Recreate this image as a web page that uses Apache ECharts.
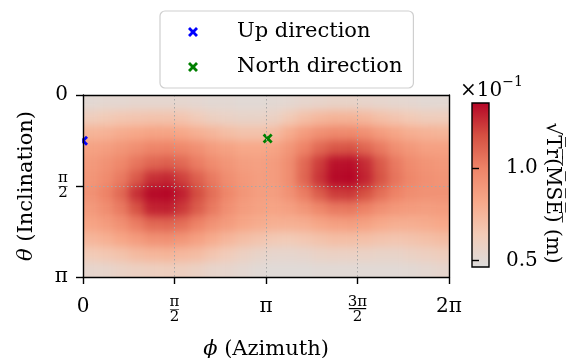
<!DOCTYPE html>
<html>
<head>
<meta charset="utf-8">
<script src="https://cdn.jsdelivr.net/npm/echarts@6/dist/echarts.min.js"></script>
<style>
html,body{margin:0;padding:0;background:#fff;}
#wrap{position:relative;width:569px;height:358px;}
#heatclip{position:absolute;left:83px;top:95px;width:366px;height:182px;overflow:hidden;}
#heat{position:absolute;left:-20px;top:-20px;width:406px;height:222px;filter:blur(4px);}
#chart{position:absolute;left:0;top:0;width:569px;height:358px;}
</style>
</head>
<body>
<div id="wrap">
  <div id="heatclip"><div id="heat"></div></div>
  <div id="chart"></div>
</div>
<script>
// sqrt(Tr(MSE)) in units of 1e-1 m; rows: theta bins 0..pi (12), cols: phi bins 0..2pi (24)
const mse = [
  [0.51,0.52,0.52,0.53,0.53,0.53,0.53,0.52,0.51,0.51,0.50,0.50,0.51,0.52,0.54,0.55,0.56,0.56,0.55,0.54,0.53,0.52,0.51,0.51],
  [0.62,0.64,0.66,0.67,0.68,0.68,0.67,0.63,0.59,0.57,0.56,0.56,0.58,0.64,0.70,0.74,0.76,0.76,0.74,0.70,0.67,0.64,0.62,0.62],
  [0.76,0.77,0.80,0.82,0.84,0.84,0.82,0.78,0.75,0.71,0.69,0.69,0.72,0.80,0.88,0.94,0.97,0.97,0.94,0.88,0.83,0.79,0.77,0.76],
  [0.85,0.87,0.91,0.95,0.99,1.00,0.98,0.94,0.88,0.85,0.82,0.82,0.84,0.91,1.00,1.09,1.15,1.16,1.10,1.03,0.95,0.90,0.86,0.86],
  [0.89,0.93,0.98,1.05,1.10,1.12,1.09,1.02,0.96,0.91,0.87,0.86,0.88,0.95,1.09,1.22,1.32,1.33,1.26,1.14,1.03,0.96,0.92,0.90],
  [0.91,0.96,1.03,1.14,1.25,1.27,1.21,1.12,1.03,0.95,0.90,0.87,0.88,0.95,1.10,1.24,1.34,1.35,1.28,1.16,1.05,0.98,0.94,0.92],
  [0.93,1.00,1.09,1.25,1.34,1.35,1.29,1.18,1.07,0.98,0.91,0.87,0.87,0.93,1.02,1.13,1.22,1.23,1.17,1.07,1.00,0.95,0.93,0.93],
  [0.89,0.95,1.03,1.16,1.28,1.29,1.23,1.13,1.03,0.94,0.88,0.85,0.84,0.86,0.91,0.98,1.03,1.04,1.00,0.94,0.90,0.88,0.87,0.88],
  [0.84,0.88,0.94,1.02,1.09,1.10,1.07,1.00,0.93,0.88,0.83,0.80,0.78,0.78,0.79,0.83,0.86,0.87,0.85,0.81,0.79,0.79,0.80,0.82],
  [0.75,0.78,0.83,0.88,0.93,0.94,0.91,0.86,0.80,0.75,0.71,0.68,0.65,0.64,0.66,0.69,0.71,0.71,0.70,0.68,0.67,0.68,0.70,0.72],
  [0.64,0.66,0.69,0.73,0.75,0.76,0.74,0.72,0.67,0.63,0.59,0.56,0.54,0.54,0.55,0.57,0.58,0.58,0.57,0.56,0.56,0.58,0.60,0.62],
  [0.54,0.55,0.57,0.59,0.60,0.61,0.60,0.58,0.55,0.54,0.52,0.50,0.49,0.49,0.49,0.50,0.50,0.50,0.50,0.50,0.50,0.51,0.52,0.54]
];
const upDirection = [0, 0.79];      // [phi, theta]
const northDirection = [3.17, 0.75];
const colorMin = 0.464, colorMax = 1.353;
const colorbarTicks = [0.5, 1.0];
const colorbarTickLabels = ['0.5', '1.0'];
const phiTicks = [0, Math.PI/2, Math.PI, 3*Math.PI/2, 2*Math.PI];
const phiTickLabels = ['0', 'π/2', 'π', '3π/2', '2π'];
const thetaTicks = [0, Math.PI/2, Math.PI];
const thetaTickLabels = ['0', 'π/2', 'π'];
const cmap = ['#dddddd', '#f2cbb7', '#f7a889', '#ee8468', '#d55042', '#b40426'];

const nRows = mse.length, nCols = mse[0].length;
const dPhi = 2*Math.PI/nCols, dTheta = Math.PI/nRows;
const cells = [];
for (let r = 0; r < nRows; r++) for (let c = 0; c < nCols; c++)
  cells.push([(c+0.5)*dPhi, (r+0.5)*dTheta, mse[r][c], c, r]);

const FONT = 'DejaVu Serif';
const xPath = 'path://M2,0 L5,3 L8,0 L10,2 L7,5 L10,8 L8,10 L5,7 L2,10 L0,8 L3,5 L0,2 Z';

// ---------- heat field (smoothed underlay) ----------
const heat = echarts.init(document.getElementById('heat'), null, { renderer: 'canvas' });
const EXT = 20;
heat.setOption({
  animation: false,
  grid: { left: 20, top: 20, width: 366, height: 182, outerBoundsMode: 'none' },
  xAxis: { type: 'value', min: 0, max: 2*Math.PI, show: false },
  yAxis: { type: 'value', min: 0, max: Math.PI, inverse: true, show: false },
  visualMap: { show: false, type: 'continuous', seriesIndex: 0, dimension: 2,
    min: colorMin, max: colorMax, inRange: { color: cmap } },
  series: [{
    type: 'custom', data: cells, clip: false, encode: { x: 0, y: 1 },
    renderItem(params, api) {
      const phi = api.value(0), th = api.value(1), c = api.value(3), r = api.value(4);
      const p0 = api.coord([phi - dPhi/2, th - dTheta/2]);
      const p1 = api.coord([phi + dPhi/2, th + dTheta/2]);
      let x0 = Math.min(p0[0], p1[0]), x1 = Math.max(p0[0], p1[0]);
      let y0 = Math.min(p0[1], p1[1]), y1 = Math.max(p0[1], p1[1]);
      if (c === 0) x0 -= EXT;
      if (c === nCols - 1) x1 += EXT;
      if (r === 0) y0 -= EXT;
      if (r === nRows - 1) y1 += EXT;
      return { type: 'rect', shape: { x: x0, y: y0, width: x1 - x0 + 0.6, height: y1 - y0 + 0.6 },
        style: { fill: api.visual('color') } };
    }
  }]
});

// ---------- main chart ----------
function fracLabel(s) {
  if (s.indexOf('/') < 0) return '{m|' + s + '}';
  const [num, den] = s.split('/');
  const bar = num.length > 1 ? 'bw' : 'b';
  return '{n|' + num + '}\n{' + bar + '|—}\n{n|' + den + '}';
}
function labelFor(ticks, labels) {
  return function (v) {
    let best = 0;
    ticks.forEach((t, i) => { if (Math.abs(t - v) < Math.abs(ticks[best] - v)) best = i; });
    return fracLabel(labels[best]);
  };
}
const fracRich = {
  m: { fontFamily: FONT, fontSize: 20, color: '#000', align: 'center', lineHeight: 22 },
  n: { fontFamily: FONT, fontSize: 15, color: '#000', align: 'center', lineHeight: 12 },
  b: { fontFamily: FONT, fontSize: 10, color: '#000', align: 'center', lineHeight: 3 },
  bw: { fontFamily: FONT, fontSize: 19, color: '#000', align: 'center', lineHeight: 3 }
};

const chart = echarts.init(document.getElementById('chart'), null, { renderer: 'canvas' });
const lineStyle = { color: '#000', width: 1.4 };
const nameRich = { i: { fontFamily: FONT, fontSize: 21, fontStyle: 'italic', color: '#000' } };
chart.setOption({
  animation: false,
  backgroundColor: 'transparent',
  grid: [
    { left: 83, top: 95, width: 366, height: 182, outerBoundsMode: 'none' },
    { left: 472, top: 103, width: 17, height: 164, outerBoundsMode: 'none' }
  ],
  title: {
    text: '{a|×10}{s|−1}', left: 455, top: 70,
    textStyle: { fontWeight: 'normal', rich: {
      a: { fontFamily: FONT, fontSize: 20, fontWeight: 'normal', color: '#000', verticalAlign: 'bottom', lineHeight: 26 },
      s: { fontFamily: FONT, fontSize: 14, fontWeight: 'normal', color: '#000', verticalAlign: 'top', lineHeight: 26, padding: [0,0,10,0] }
    } }
  },
  legend: {
    left: 160, top: 11, orient: 'vertical',
    padding: [10, 11, 10, 28],
    itemWidth: 40, itemHeight: 10, itemGap: 13,
    backgroundColor: '#fff', borderColor: '#cfcfcf', borderWidth: 1.2, borderRadius: 5,
    textStyle: { fontFamily: FONT, fontSize: 21, color: '#000', padding: [0, 0, 0, 19], lineHeight: 22 },
    data: ['Up direction', 'North direction']
  },
  xAxis: [
    { gridIndex: 0, type: 'value', min: 0, max: 2*Math.PI, interval: Math.PI/2, position: 'bottom', z: 10,
      name: '{i|ϕ} (Azimuth)', nameLocation: 'middle', nameGap: 62,
      nameTextStyle: { fontFamily: FONT, fontSize: 21, color: '#000', rich: nameRich },
      axisLine: { show: true, onZero: false, lineStyle }, axisTick: { show: true, length: 7, lineStyle, customValues: phiTicks },
      axisLabel: { margin: 19, customValues: phiTicks, formatter: labelFor(phiTicks, phiTickLabels), rich: fracRich, verticalAlign: 'top' },
      splitLine: { show: true, lineStyle: { color: '#a8a8a8', width: 1, type: [1.5, 2.5] } } },
    { gridIndex: 0, type: 'value', min: 0, max: 2*Math.PI, position: 'top', z: 10,
      axisLine: { show: true, onZero: false, lineStyle }, axisTick: { show: false }, axisLabel: { show: false }, splitLine: { show: false } },
    { gridIndex: 1, type: 'value', min: 0, max: 1, show: false }
  ],
  yAxis: [
    { gridIndex: 0, type: 'value', min: 0, max: Math.PI, interval: Math.PI/2, inverse: true, position: 'left', z: 10,
      name: '{i|θ} (Inclination)', nameLocation: 'middle', nameGap: 46,
      nameTextStyle: { fontFamily: FONT, fontSize: 21, color: '#000', rich: nameRich },
      axisLine: { show: true, onZero: false, lineStyle }, axisTick: { show: true, length: 7, lineStyle, customValues: thetaTicks },
      axisLabel: { margin: 15, customValues: thetaTicks, formatter: labelFor(thetaTicks, thetaTickLabels), rich: fracRich },
      splitLine: { show: true, lineStyle: { color: '#a8a8a8', width: 1, type: [1.5, 2.5] } } },
    { gridIndex: 0, type: 'value', min: 0, max: Math.PI, inverse: true, position: 'right', z: 10,
      axisLine: { show: true, onZero: false, lineStyle }, axisTick: { show: false }, axisLabel: { show: false }, splitLine: { show: false } },
    { gridIndex: 1, type: 'value', min: colorMin, max: colorMax, position: 'right', z: 10,
      name: '√T̅r̅(̅M̅S̅E̅)̅ (m)', nameLocation: 'middle', nameRotate: -90, nameGap: 48,
      nameTextStyle: { fontFamily: FONT, fontSize: 20, color: '#000', padding: [0, 0, 0, 16] },
      axisLine: { show: false }, axisTick: { show: true, length: 7, lineStyle, customValues: colorbarTicks },
      axisLabel: { margin: 17, customValues: colorbarTicks, fontFamily: FONT, fontSize: 20, color: '#000',
        formatter: v => colorbarTickLabels[colorbarTicks.indexOf(v)] },
      splitLine: { show: false } }
  ],
  graphic: [
    { type: 'rect', shape: { x: 68, y: 130, width: 14.2, height: 22 }, style: { fill: '#fff' }, z: 6 }
  ],
  series: [
    { type: 'scatter', name: 'Up direction', xAxisIndex: 0, yAxisIndex: 0, data: [upDirection],
      symbol: xPath, symbolSize: 10, itemStyle: { color: '#0000ff', opacity: 1 }, z: 5, clip: false },
    { type: 'scatter', name: 'North direction', xAxisIndex: 0, yAxisIndex: 0, data: [northDirection],
      symbol: xPath, symbolSize: 10, itemStyle: { color: '#008000', opacity: 1 }, z: 5 },
    { type: 'custom', xAxisIndex: 2, yAxisIndex: 2, data: [[0, colorMin, colorMax]], z: 3,
      renderItem(params, api) {
        const p0 = api.coord([0, api.value(2)]);
        const p1 = api.coord([1, api.value(1)]);
        const stops = cmap.map((c, i) => ({ offset: i/(cmap.length-1), color: c }));
        return { type: 'rect',
          shape: { x: p0[0], y: p0[1], width: p1[0] - p0[0], height: p1[1] - p0[1] },
          style: { fill: new echarts.graphic.LinearGradient(0, 1, 0, 0, stops), stroke: '#000', lineWidth: 1.4 } };
      } }
  ]
});
</script>
</body>
</html>
